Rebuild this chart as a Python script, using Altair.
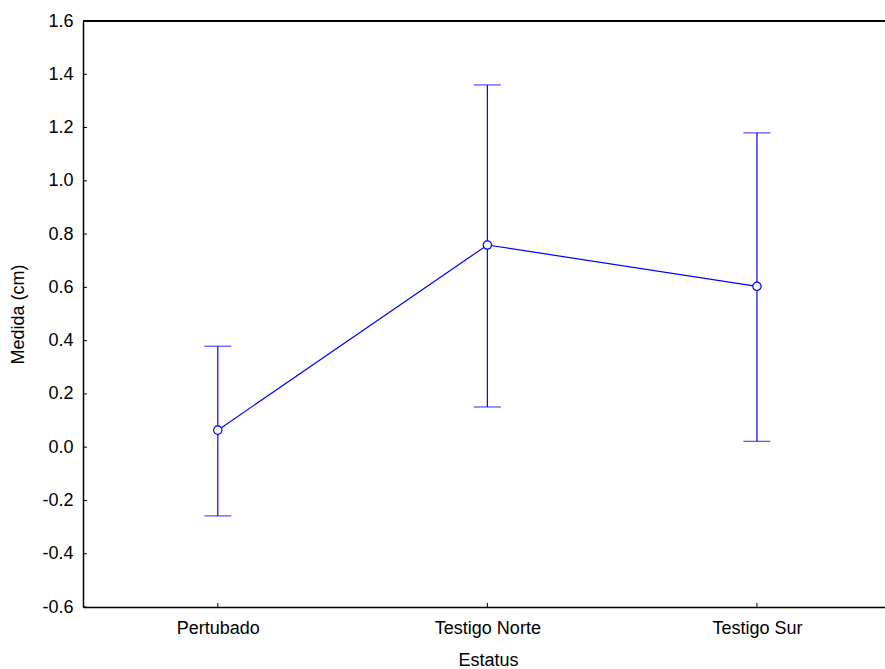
import altair as alt
import pandas as pd

# Group means with their interval bounds (cm)
estatus = ["Pertubado", "Testigo Norte", "Testigo Sur"]
media = [0.064, 0.759, 0.604]
inferior = [-0.258, 0.151, 0.022]
superior = [0.379, 1.360, 1.180]

y_ticks = [-0.6, -0.4, -0.2, 0.0, 0.2, 0.4, 0.6, 0.8, 1.0, 1.2, 1.4, 1.6]

df = pd.DataFrame({
    "idx": list(range(len(estatus))),
    "estatus": estatus,
    "media": media,
    "lo": inferior,
    "hi": superior,
})
ticks_y = pd.DataFrame({"v": y_ticks})
ticks_x = pd.DataFrame({"v": list(range(len(estatus)))})

FONT = "Liberation Sans"
BLUE = "#0000ff"
W, H = 802, 586

names_expr = "[" + ",".join("'" + s + "'" for s in estatus) + "][datum.value]"

x_scale = alt.Scale(domain=[-0.5, 2.475], nice=False, zero=False)
y_scale = alt.Scale(domain=[-0.6, 1.6], nice=False, zero=False)

x_axis = alt.Axis(
    title="Estatus", values=[0, 1, 2], labelExpr=names_expr, grid=False,
    ticks=False, domainColor="black", domainWidth=1.5,
    labelFont=FONT, labelFontSize=18, labelColor="black", labelPadding=12,
    titleFont=FONT, titleFontSize=18, titleFontWeight="normal", titleColor="black",
    titlePadding=14, titleX=405,
)
y_axis = alt.Axis(
    title="Medida (cm)", values=y_ticks,
    labelExpr="replace(format(datum.value, '.1f'), '\u2212', '-')",
    grid=False, ticks=False, domainColor="black", domainWidth=1.5,
    labelFont=FONT, labelFontSize=18, labelColor="black", labelPadding=10,
    titleFont=FONT, titleFontSize=18, titleFontWeight="normal", titleColor="black",
    titlePadding=14,
)

base = alt.Chart(df)

bars = base.mark_rule(color=BLUE, strokeWidth=1.2).encode(
    x=alt.X("idx:Q", scale=x_scale, axis=x_axis),
    y=alt.Y("lo:Q", scale=y_scale, axis=y_axis),
    y2="hi:Q",
)
cap_lo = base.mark_tick(color=BLUE, orient="horizontal", size=27, thickness=1.2).encode(
    x=alt.X("idx:Q", scale=x_scale), y=alt.Y("lo:Q", scale=y_scale)
)
cap_hi = base.mark_tick(color=BLUE, orient="horizontal", size=27, thickness=1.2).encode(
    x=alt.X("idx:Q", scale=x_scale), y=alt.Y("hi:Q", scale=y_scale)
)
line = base.mark_line(color=BLUE, strokeWidth=1.2).encode(
    x=alt.X("idx:Q", scale=x_scale), y=alt.Y("media:Q", scale=y_scale)
)
points = base.mark_point(
    shape="circle", filled=True, fill="white", stroke=BLUE, strokeWidth=1.2,
    size=70, opacity=1,
).encode(x=alt.X("idx:Q", scale=x_scale), y=alt.Y("media:Q", scale=y_scale))

# inward tick marks on both axes
ytick_marks = alt.Chart(ticks_y).mark_rule(color="black", strokeWidth=1).encode(
    y=alt.Y("v:Q", scale=y_scale), x=alt.value(0), x2=alt.value(4)
)
xtick_marks = alt.Chart(ticks_x).mark_rule(color="black", strokeWidth=1).encode(
    x=alt.X("v:Q", scale=x_scale), y=alt.value(H), y2=alt.value(H - 4)
)
# top frame line
top_line = alt.Chart(ticks_y).mark_rule(color="black", strokeWidth=1.5).encode(
    y=alt.datum(1.6, scale=y_scale)
)

chart = alt.layer(
    ytick_marks, xtick_marks, top_line, bars, cap_lo, cap_hi, line, points
).properties(
    width=W, height=H,
    autosize=alt.AutoSizeParams(type="none"),
    padding={"left": 83, "top": 21, "right": 0, "bottom": 62},
    background="white",
).configure_view(stroke=None)

chart.save("out.html", embed_options={"renderer": "svg", "actions": False})
